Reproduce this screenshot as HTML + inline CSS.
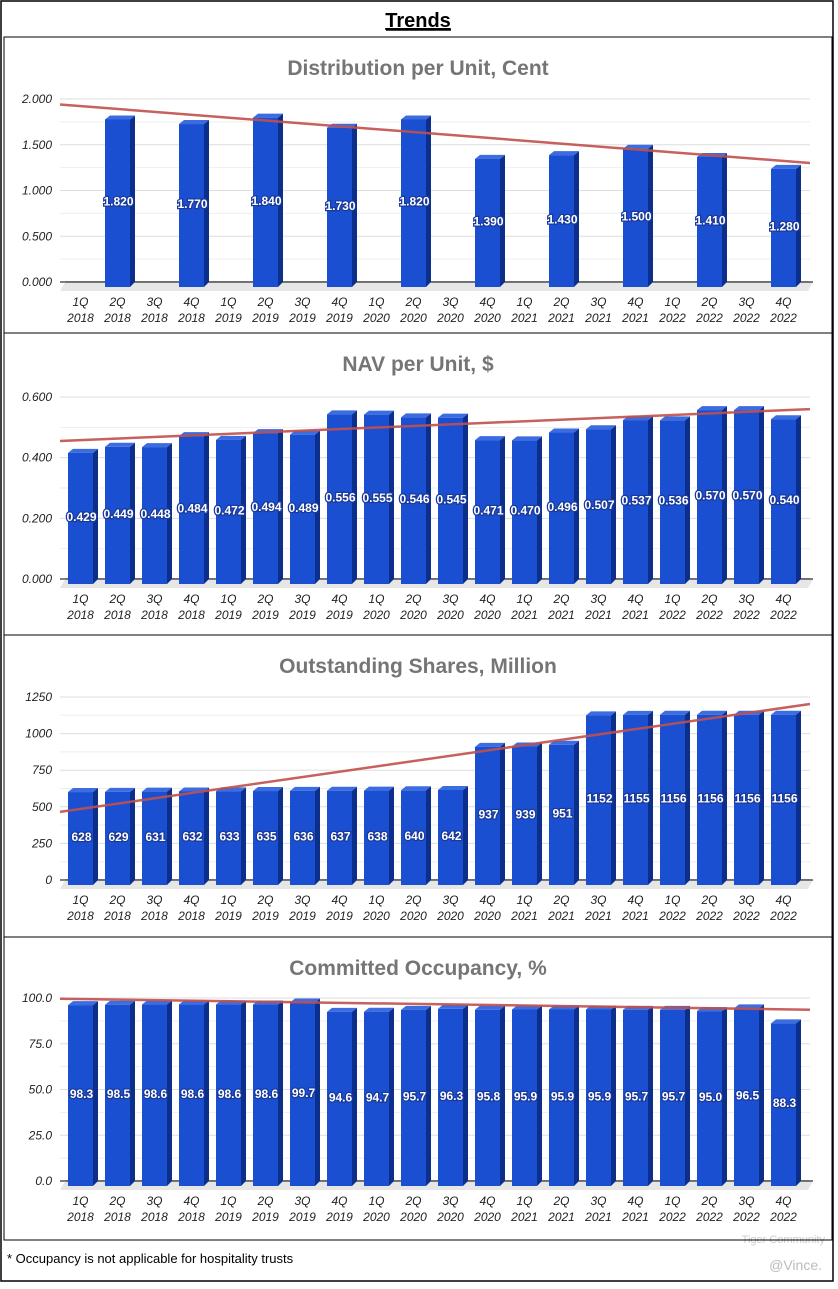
<!DOCTYPE html>
<html><head><meta charset="utf-8">
<style>
body{margin:0;background:#fff;width:838px;height:1284px;overflow:hidden;font-family:"Liberation Sans",sans-serif;}
#wrap{position:absolute;left:0;top:0;width:838px;height:1284px;}
</style></head>
<body>
<div id="wrap">
<svg id="svg" width="838" height="1284" xmlns="http://www.w3.org/2000/svg">
<rect x="1" y="1" width="832" height="1280" fill="none" stroke="#000" stroke-width="1.5"/>
<text x="418" y="27" text-anchor="middle" font-size="20" font-weight="bold" text-decoration="underline" fill="#000">Trends</text>
<line x1="386" y1="30" x2="451" y2="30" stroke="#000" stroke-width="1.5"/>
<text x="7" y="1263" font-size="13" fill="#000">* Occupancy is not applicable for hospitality trusts</text>
<text x="822" y="1270" text-anchor="end" font-size="14" fill="#bbb">@Vince.</text>
<text x="825" y="1243" text-anchor="end" font-size="11" fill="#ccc">Tiger Community</text>
</svg>
</div>
<script>
const categories=["1Q 2018","2Q 2018","3Q 2018","4Q 2018","1Q 2019","2Q 2019","3Q 2019","4Q 2019","1Q 2020","2Q 2020","3Q 2020","4Q 2020","1Q 2021","2Q 2021","3Q 2021","4Q 2021","1Q 2022","2Q 2022","3Q 2022","4Q 2022"];
const dpuValues=[null,1.820,null,1.770,null,1.840,null,1.730,null,1.820,null,1.390,null,1.430,null,1.500,null,1.410,null,1.280];
const navValues=[0.429,0.449,0.448,0.484,0.472,0.494,0.489,0.556,0.555,0.546,0.545,0.471,0.470,0.496,0.507,0.537,0.536,0.570,0.570,0.540];
const sharesValues=[628,629,631,632,633,635,636,637,638,640,642,937,939,951,1152,1155,1156,1156,1156,1156];
const occValues=[98.3,98.5,98.6,98.6,98.6,98.6,99.7,94.6,94.7,95.7,96.3,95.8,95.9,95.9,95.9,95.7,95.7,95.0,96.5,88.3];
const dpuTicks=["0.000","0.500","1.000","1.500","2.000"];
const navTicks=["0.000","0.200","0.400","0.600"];
const sharesTicks=["0","250","500","750","1000","1250"];
const occTicks=["0.0","25.0","50.0","75.0","100.0"];
const dpuTrend=[1.94,1.30];
const navTrend=[0.455,0.560];
const sharesTrend=[465,1202];
const occTrend=[99.6,93.6];

const svg=document.getElementById('svg');
const NS='http://www.w3.org/2000/svg';
function mk(tag,attrs,parent){const e=document.createElementNS(NS,tag);for(const k in attrs)e.setAttribute(k,attrs[k]);(parent||svg).appendChild(e);return e;}

function chart(opt){
  const g=mk('g',{});
  
  
  const top=opt.top;
  const frame=mk('rect',{x:4,y:top,width:828,height:opt.h,fill:'none',stroke:'#000','stroke-width':1},g);
  
  
  const t=mk('text',{x:418,y:top+38,'text-anchor':'middle','font-size':21,'font-weight':'bold',fill:'#757575'},g);
  t.textContent=opt.title;
  
  
  const zero=opt.zero, topY=opt.topY, max=opt.max;
  const y=v=>zero-(v/max)*(zero-topY);
  const x=i=>80.5+37*i;
  const n=opt.ticks.length;
  for(let k=0;k<(n-1)*2+1;k++){
    const v=max*k/((n-1)*2);
    const gl=mk('line',{x1:60,x2:810,y1:y(v),y2:y(v),stroke:k===0?'#333':(k%2?'#eee':'#ddd'),'stroke-width':k===0?1.2:1},g);
    
    
  }
  opt.ticks.forEach((lab,k)=>{
    const v=max*k/(n-1);
    const tt=mk('text',{x:52,y:y(v)+4,'text-anchor':'end','font-size':12,'font-style':'italic',fill:'#222'},g);
    tt.textContent=lab;
    
    
  });
  const fl=mk('polygon',{points:`60,${zero+9} 65,${zero} 813,${zero} 808,${zero+9}`,fill:'#e6e6e6'},g);
  
  
  const ax=mk('line',{x1:65,x2:813,y1:zero,y2:zero,stroke:'#333','stroke-width':1.2},g);
  
  
  categories.forEach((c,i)=>{
    const parts=c.split(' ');
    const l1=mk('text',{x:x(i),y:zero+24,'text-anchor':'middle','font-size':12,'font-style':'italic',fill:'#222'},g);
    l1.textContent=parts[0];
    
    
    const l2=mk('text',{x:x(i),y:zero+40,'text-anchor':'middle','font-size':12,'font-style':'italic',fill:'#222'},g);
    l2.textContent=parts[1];
    
    
  });
  opt.values.forEach((v,i)=>{
    if(v===null)return;
    const cx=x(i), L=cx-12.5, R=cx+12.5, ty=y(v)+4, bot=zero+5;
    const bg=mk('g',{},g);
    
    
    mk('polygon',{points:`${R},${ty} ${R+5},${ty-4} ${R+5},${bot-5} ${R},${bot}`,fill:'#0d2f8c'},bg);
    mk('polygon',{points:`${L},${ty} ${L+5},${ty-4} ${R+5},${ty-4} ${R},${ty}`,fill:'#3b6ce0'},bg);
    mk('rect',{x:L,y:ty,width:25,height:bot-ty,fill:'#1a4fd2'},bg);
    const lbl=mk('text',{x:cx+1,y:(ty+zero)/2+5,'text-anchor':'middle','font-size':12,'font-weight':'bold',fill:'#fff',stroke:'#1a3a9a','stroke-width':2.5,'paint-order':'stroke'},bg);
    lbl.textContent=opt.fmt(v);
    
    
  });
  const tr=mk('line',{x1:60,y1:y(opt.trend[0]),x2:810,y2:y(opt.trend[1]),stroke:'#c0504d','stroke-width':2.5,'stroke-opacity':0.9},g);
  
  
}
chart({name:'distribution-chart',title:'Distribution per Unit, Cent',top:37,h:296,zero:282,topY:99,max:2,ticks:dpuTicks,values:dpuValues,trend:dpuTrend,fmt:v=>v.toFixed(3)});
chart({name:'nav-chart',title:'NAV per Unit, $',top:333,h:302,zero:579,topY:397,max:0.6,ticks:navTicks,values:navValues,trend:navTrend,fmt:v=>v.toFixed(3)});
chart({name:'shares-chart',title:'Outstanding Shares, Million',top:635,h:302,zero:880,topY:697,max:1250,ticks:sharesTicks,values:sharesValues,trend:sharesTrend,fmt:v=>String(v)});
chart({name:'occupancy-chart',title:'Committed Occupancy, %',top:937,h:303,zero:1181,topY:998,max:100,ticks:occTicks,values:occValues,trend:occTrend,fmt:v=>v.toFixed(1)});
</script>
</body></html>
